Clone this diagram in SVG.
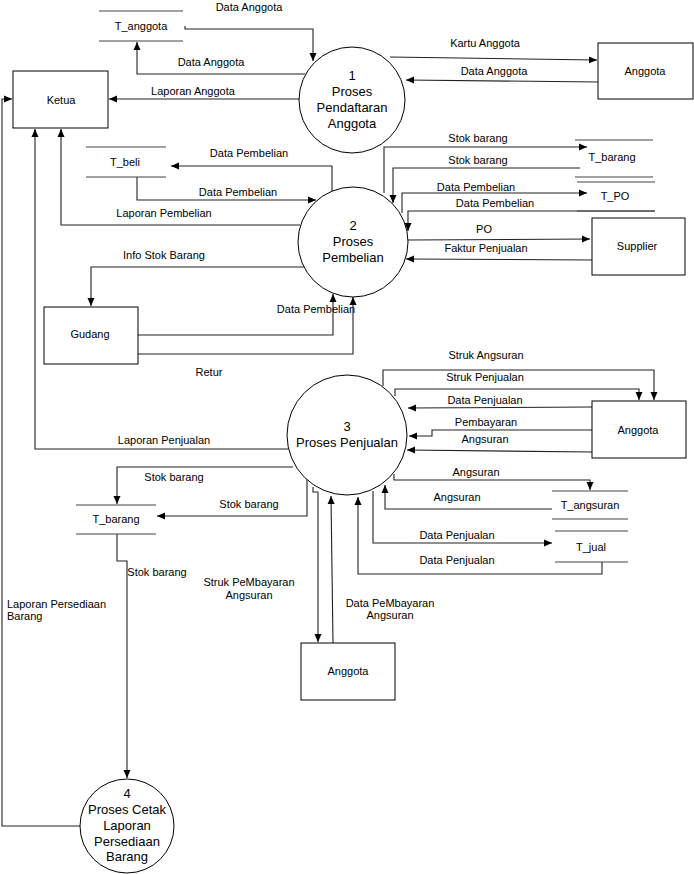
<svg xmlns="http://www.w3.org/2000/svg" width="694" height="874" viewBox="0 0 694 874">
<style>
.t{font-family:"Liberation Sans",Arial,sans-serif;font-size:11px;fill:#000;text-anchor:middle}
.l{text-anchor:start}
.p{font-size:13px}
.b{fill:#fff;stroke:#000;stroke-width:1}
.s{stroke:#444;stroke-width:1.2;fill:none}
.c path{fill:none;stroke:#222;stroke-width:1.1;marker-end:url(#a)}
.c path.n{marker-end:none}
</style>
<defs>
<marker id="a" markerWidth="9" markerHeight="8" refX="8" refY="4" orient="auto" markerUnits="userSpaceOnUse"><path d="M0,0.5 L8,4 L0,7.5 z" fill="#000"/></marker>
</defs>
<rect width="694" height="874" fill="#fff"/>
<g id="connectors" class="c">
<path d="M185,26 V29 H313 V61"/>
<path d="M305,74 H137 V42"/>
<path d="M300,99 H109"/>
<path d="M390,57 L597,60"/>
<path d="M598,82 L406,80"/>
<path d="M300,225 H61 V129"/>
<path d="M332,192 V166 H171"/>
<path d="M137,177 V200 H316"/>
<path d="M306,267 H91 V306"/>
<path d="M138,335 H333 V294"/>
<path d="M138,354 H353 V297"/>
<path d="M384,193 V147 H587"/>
<path d="M580,168 H393 V203"/>
<path d="M402,213 V193 H587"/>
<path d="M655,211 H408 V231"/>
<path d="M408,240 L590,239"/>
<path d="M592,260 L406,259"/>
<path d="M289,449 H35 V129"/>
<path d="M383,386 V370 H654 V400"/>
<path d="M395,396 V389 H639 V400"/>
<path d="M592,407 L408,408"/>
<path d="M592,430 H432 V436 H409"/>
<path d="M592,452 L407,450"/>
<path d="M394,474 V480 H590 V490"/>
<path d="M552,509 H385 V485"/>
<path d="M373,491 V543 H552"/>
<path d="M602,562 V574 H358 V497"/>
<path d="M293,467 H117 V504"/>
<path d="M307,477 V516 H157"/>
<path d="M117,534 V561 H127 V778"/>
<path d="M80,826 H2 V99 H12"/>
<path d="M313,487 V492 H318 V642"/>
<path d="M333,643 L331,496"/>
</g>
<g id="labels">
<text class="t" x="249" y="11">Data Anggota</text>
<text class="t" x="211" y="66">Data Anggota</text>
<text class="t" x="193" y="95">Laporan Anggota</text>
<text class="t" x="485" y="47">Kartu Anggota</text>
<text class="t" x="494" y="75">Data Anggota</text>
<text class="t" x="164" y="217">Laporan Pembelian</text>
<text class="t" x="249" y="157">Data Pembelian</text>
<text class="t" x="238" y="196">Data Pembelian</text>
<text class="t" x="164" y="259">Info Stok Barang</text>
<text class="t" x="316" y="313">Data Pembelian</text>
<text class="t" x="209" y="376">Retur</text>
<text class="t" x="478" y="142">Stok barang</text>
<text class="t" x="478" y="164">Stok barang</text>
<text class="t" x="476" y="191">Data Pembelian</text>
<text class="t" x="495" y="207">Data Pembelian</text>
<text class="t" x="484" y="233">PO</text>
<text class="t" x="486" y="252">Faktur Penjualan</text>
<text class="t" x="164" y="444">Laporan Penjualan</text>
<text class="t" x="486" y="359">Struk Angsuran</text>
<text class="t" x="485" y="381">Struk Penjualan</text>
<text class="t" x="485" y="404">Data Penjualan</text>
<text class="t" x="486" y="426">Pembayaran</text>
<text class="t" x="485" y="443">Angsuran</text>
<text class="t" x="476" y="476">Angsuran</text>
<text class="t" x="457" y="501">Angsuran</text>
<text class="t" x="457" y="539">Data Penjualan</text>
<text class="t" x="457" y="564">Data Penjualan</text>
<text class="t" x="174" y="481">Stok barang</text>
<text class="t" x="249" y="508">Stok barang</text>
<text class="t" x="157" y="576">Stok barang</text>
<text class="t l" x="7" y="608">Laporan Persediaan</text>
<text class="t l" x="7" y="620">Barang</text>
<text class="t" x="249" y="586">Struk PeMbayaran</text>
<text class="t" x="249" y="599">Angsuran</text>
<text class="t" x="390" y="607">Data PeMbayaran</text>
<text class="t" x="390" y="619">Angsuran</text>
</g>
<g id="ketua"><rect class="b" x="13" y="71" width="95" height="57"/><text class="t" x="61" y="104">Ketua</text></g>
<g id="t_anggota"><path class="s" d="M99,11 H183 M99,41 H183"/><text class="t" x="141" y="30">T_anggota</text></g>
<g id="p1"><circle class="b" cx="352" cy="100" r="53"/><text class="t p" x="352" y="80">1</text><text class="t p" x="352" y="96">Proses</text><text class="t p" x="352" y="112">Pendaftaran</text><text class="t p" x="352" y="128">Anggota</text></g>
<g id="anggota1"><rect class="b" x="598" y="43" width="95" height="56"/><text class="t" x="645" y="75">Anggota</text></g>
<g id="t_beli"><path class="s" d="M86,147 H166 M86,177 H166"/><text class="t" x="125" y="166">T_beli</text></g>
<g id="p2"><circle class="b" cx="353" cy="242" r="55"/><text class="t p" x="353" y="230">2</text><text class="t p" x="353" y="246">Proses</text><text class="t p" x="353" y="262">Pembelian</text></g>
<g id="t_barang1"><path class="s" d="M575,140 H653 M575,177 H653"/><text class="t" x="612" y="161">T_barang</text></g>
<g id="t_po"><path class="s" d="M577,182 H655 M577,211 H655"/><text class="t" x="615" y="200">T_PO</text></g>
<g id="supplier"><rect class="b" x="592" y="218" width="93" height="57"/><text class="t" x="637" y="250">Supplier</text></g>
<g id="gudang"><rect class="b" x="44" y="307" width="94" height="57"/><text class="t" x="90" y="338">Gudang</text></g>
<g id="p3"><circle class="b" cx="347" cy="435" r="60"/><text class="t p" x="347" y="431">3</text><text class="t p" x="347" y="447">Proses Penjualan</text></g>
<g id="anggota2"><rect class="b" x="592" y="401" width="94" height="57"/><text class="t" x="638" y="434">Anggota</text></g>
<g id="t_angsuran"><path class="s" d="M552,491 H628 M552,519 H628"/><text class="t" x="590" y="509">T_angsuran</text></g>
<g id="t_jual"><path class="s" d="M555,531 H628 M555,562 H628"/><text class="t" x="591" y="551">T_jual</text></g>
<g id="t_barang2"><path class="s" d="M76,505 H156 M76,534 H156"/><text class="t" x="116" y="523">T_barang</text></g>
<g id="anggota3"><rect class="b" x="301" y="643" width="94" height="57"/><text class="t" x="348" y="675">Anggota</text></g>
<g id="p4"><circle class="b" cx="127" cy="826" r="47"/><text class="t p" x="127" y="798">4</text><text class="t p" x="127" y="814">Proses Cetak</text><text class="t p" x="127" y="830">Laporan</text><text class="t p" x="127" y="846">Persediaan</text><text class="t p" x="127" y="861">Barang</text></g>
</svg>
